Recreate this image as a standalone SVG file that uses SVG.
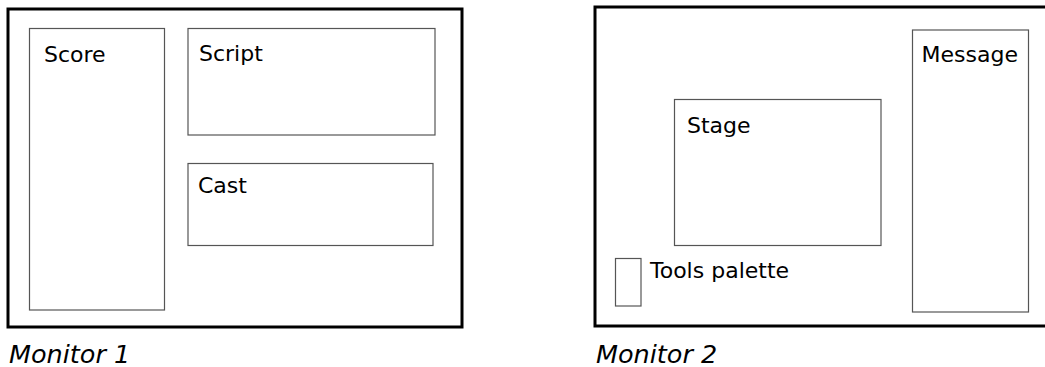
<svg xmlns="http://www.w3.org/2000/svg" width="1045" height="367" viewBox="0 0 1045 367">
  <style>
    .monitor { fill: #fff; stroke: #000; stroke-width: 3; }
    .win { fill: #fff; stroke: #555; stroke-width: 1.2; }
    .label { font-family: "DejaVu Sans", "Liberation Sans", sans-serif; font-size: 22px; fill: #000; }
    .caption { font-family: "DejaVu Sans", "Liberation Sans", sans-serif; font-size: 25.5px; font-style: italic; fill: #000; }
  </style>
  <rect width="1045" height="367" fill="#fff"/>

  <!-- First monitor -->
  <g id="monitor1">
    <rect class="monitor" x="8" y="9" width="454" height="318"/>
    <text class="caption" x="9" y="363">Monitor 1</text>
  </g>
  <g id="score">
    <rect class="win" x="29.5" y="28.5" width="135" height="281.5"/>
    <text class="label" x="44" y="62">Score</text>
  </g>
  <g id="script">
    <rect class="win" x="188" y="28.5" width="247" height="106.5"/>
    <text class="label" x="199" y="60.5">Script</text>
  </g>
  <g id="cast">
    <rect class="win" x="188" y="163.5" width="245" height="82"/>
    <text class="label" x="198" y="193">Cast</text>
  </g>

  <!-- Second monitor (runs past the right edge) -->
  <g id="monitor2">
    <rect class="monitor" x="595" y="7" width="460" height="319"/>
    <text class="caption" x="596" y="363">Monitor 2</text>
  </g>
  <g id="stage">
    <rect class="win" x="674.5" y="99.5" width="206.5" height="146"/>
    <text class="label" x="687" y="133">Stage</text>
  </g>
  <g id="message">
    <rect class="win" x="912.5" y="30" width="116" height="282"/>
    <text class="label" x="921.5" y="61.5">Message</text>
  </g>
  <g id="tools-palette">
    <rect class="win" x="615.5" y="258.5" width="25.5" height="47.5"/>
    <text class="label" x="650" y="277.5">Tools palette</text>
  </g>

  <g id="connectors"/>
</svg>
